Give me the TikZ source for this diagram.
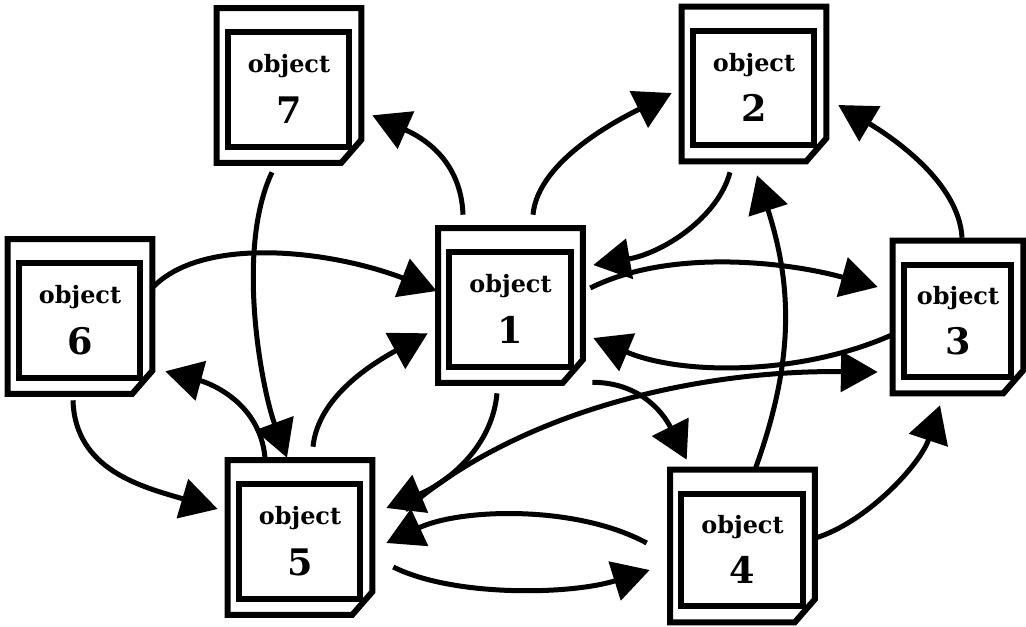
\documentclass[tikz,border=0pt]{standalone}
\usepackage{fontspec}
\setmainfont{DejaVu Serif}
\usetikzlibrary{arrows.meta}

\tikzset{
  objbox/.style={minimum width=3.6cm, minimum height=3.85cm, inner sep=0pt,
    align=center, font=\fontsize{17}{36}\selectfont\bfseries},
  boxline/.style={line width=0.15cm, line join=miter},
  link/.style={line width=0.125cm, -{Triangle[length=0.92cm, width=1cm]}},
}

\newcommand{\numfont}{\fontsize{26}{36}\selectfont}
% box with folded corner: name, position, number
\newcommand{\objbox}[4][]{%
  \node[objbox,#1] (#2) at (#3) {\rule{0pt}{18pt}object\\{\numfont #4}};
  \draw[boxline] (#2.north west) -- (#2.north east)
    -- ([shift={(0,-23)}]#2.south east) -- ([shift={(-20,0)}]#2.south east)
    -- (#2.south west) -- cycle;
  \draw[boxline] ([shift={(11,24)}]#2.north west) rectangle ([shift={(-12,-16)}]#2.south east);
}

\begin{document}
\begin{tikzpicture}[x=0.025cm, y=-0.025cm]
	\useasboundingbox[fill=white] (0,0) rectangle (1026,626);

	\objbox{o7}{289,85.5}{7}
	\objbox{o2}{754,84}{2}
	\objbox{o6}{80,316.5}{6}
	\objbox{o1}{510.5,305.5}{1}
	\objbox[minimum width=3.25cm, minimum height=3.8cm]{o3}{958,317}{3}
	\objbox{o5}{300,537.5}{5}
	\objbox[minimum height=3.8cm]{o4}{742.5,546}{4}

	% links around object 5 and 6
	\draw[link] ([shift={(-17,9.5)}]o7.south) .. controls +(-37,78) and +(-25,-68) .. ([shift={(-13,-2.5)}]o5.north);
	\draw[link] ([shift={(-35,-2.5)}]o5.north) .. controls +(-5,-55) and +(45,12) .. ([shift={(13,-22.5)}]o6.south east);
	\draw[link] ([shift={(13,-13.5)}]o5.north) .. controls +(5,-50) and +(-55,30) .. ([shift={(-10.5,-49.5)}]o1.south west);
	\draw[link] ([shift={(-1,-27.5)}]o6.east) .. controls +(49,-54) and +(-107,-41) .. ([shift={(-1.5,-14.5)}]o1.west);
	\draw[link] ([shift={(-7,6.5)}]o6.south) .. controls +(2,70) and +(-75,-22) .. ([shift={(-10,-28.5)}]o5.west);

	% links out of the top
	\draw[link] ([shift={(-47.5,-13.5)}]o1.north) .. controls +(-2,-55) and +(50,22) .. ([shift={(11,-47.5)}]o7.south east);
	\draw[link] ([shift={(22.5,-13.5)}]o1.north) .. controls +(5,-55) and +(-50,25) .. ([shift={(-10,9)}]o2.west);
	\draw[link] ([shift={(4,-3)}]o3.north) .. controls +(-3,-55) and +(55,33) .. ([shift={(12,21)}]o2.east);
	\draw[link] ([shift={(-24,11)}]o2.south) .. controls +(-12,45) and +(70,-12) .. ([shift={(10.5,-40.5)}]o1.east);

	% links between 1 and 3
	\draw[link] ([shift={(7.5,-17.5)}]o1.east) .. controls +(80,-40) and +(-90,-25) .. ([shift={(-15,-30)}]o3.west);
	\draw[link] ([shift={(-1,18)}]o3.west) .. controls +(-90,40) and +(90,38) .. ([shift={(10.5,32.5)}]o1.east);

	% links out of object 4
	\draw[link] ([shift={(12.5,0)}]o4.north) .. controls +(40,-110) and +(35,110) .. ([shift={(3,14)}]o2.south);
	\draw[link] ([shift={(0.5,-8)}]o4.east) .. controls +(50,-15) and +(-20,60) .. ([shift={(-18,12)}]o3.south);
	\draw[link] ([shift={(9.5,-0.5)}]o1.south east) .. controls +(45,0) and +(-25,-50) .. ([shift={(16.5,-10)}]o4.north west);

	% links at the bottom
	\draw[link] ([shift={(33,-27.5)}]o5.east) .. controls +(115,-100) and +(-178,-2) .. ([shift={(-15,55)}]o3.west);
	\draw[link] ([shift={(-13.5,10.5)}]o1.south) .. controls +(-5,55) and +(60,-25) .. ([shift={(14,-29.5)}]o5.east);
	\draw[link] ([shift={(-23.5,-3)}]o4.west) .. controls +(-70,-38) and +(75,-35) .. ([shift={(14,5.5)}]o5.east);
	\draw[link] ([shift={(21,29.5)}]o5.east) .. controls +(60,30) and +(-80,25) .. ([shift={(-20.5,24)}]o4.west);
\end{tikzpicture}
\end{document}
